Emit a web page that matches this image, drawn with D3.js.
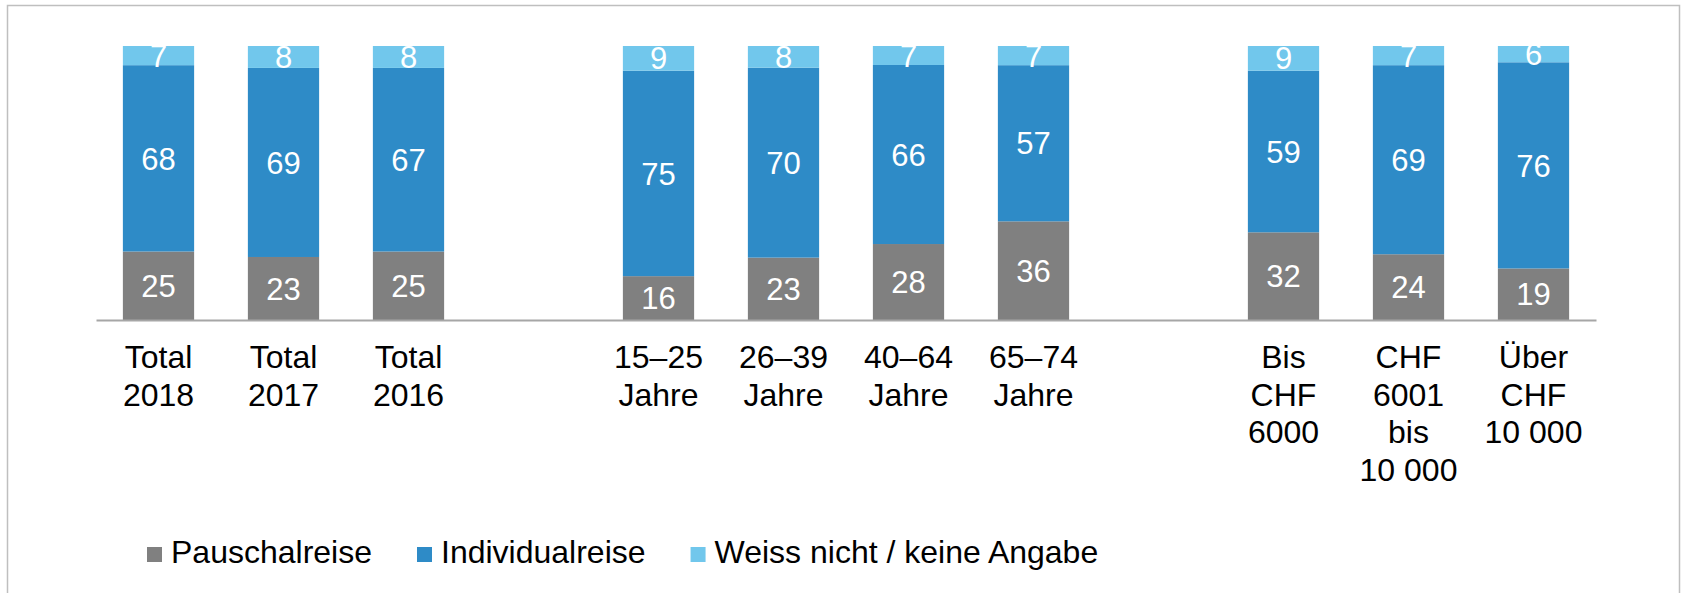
<!DOCTYPE html>
<html>
<head>
<meta charset="utf-8">
<script src="https://cdn.jsdelivr.net/npm/d3@7"></script>
<style>
  body { margin: 0; background: #fff; }
  text { font-family: "Liberation Sans", Arial, sans-serif; }
</style>
</head>
<body>
<div id="chart"></div>
<script>
// ===== Data =====
let categories = [
  ["Total", "2018"], ["Total", "2017"], ["Total", "2016"],
  ["15–25", "Jahre"], ["26–39", "Jahre"], ["40–64", "Jahre"], ["65–74", "Jahre"],
  ["Bis", "CHF", "6000"], ["CHF", "6001", "bis", "10 000"], ["Über", "CHF", "10 000"]
];
// which block each category belongs to (a blank slot sits between blocks)
let groupOf = [0, 0, 0, 1, 1, 1, 1, 2, 2, 2];

let pauschal   = [25, 23, 25, 16, 23, 28, 36, 32, 24, 19];
let individual = [68, 69, 67, 75, 70, 66, 57, 59, 69, 76];
let weissNicht = [7, 8, 8, 9, 8, 7, 7, 9, 7, 6];

let seriesNames = ["Pauschalreise", "Individualreise", "Weiss nicht / keine Angabe"];
let colors = ["#808080", "#2E8BC7", "#71C7EC"];

// ===== Layout =====
let width = 1682, height = 593;
let baseY = 320, topY = 46;
let valueSize = 31, labelSize = 32;

let rows = categories.map((c, i) => ({
  slot: i + groupOf[i],
  label: c,
  "Pauschalreise": pauschal[i],
  "Individualreise": individual[i],
  "Weiss nicht / keine Angabe": weissNicht[i]
}));

let nSlots = categories.length + d3.max(groupOf);

let x = d3.scaleBand()
    .domain(d3.range(nSlots))
    .range([96, 1596])
    .paddingInner(0.43)
    .paddingOuter(0.215);

let y = d3.scaleLinear().domain([0, 1]).range([baseY, topY]);

let stack = d3.stack()
    .keys(seriesNames)
    .offset(d3.stackOffsetExpand);
let stacked = stack(rows);

let svg = d3.select("#chart").append("svg")
    .attr("width", width)
    .attr("height", height);

// outer frame
svg.append("rect")
    .attr("x", 7.5).attr("y", 5.5)
    .attr("width", 1672).attr("height", 620)
    .attr("fill", "none")
    .attr("stroke", "#BFBFBF")
    .attr("stroke-width", 1.5);

// ===== Bars =====
let layers = svg.selectAll(".layer")
  .data(stacked)
  .enter().append("g")
    .attr("class", "layer")
    .attr("fill", (d, i) => colors[i]);

layers.selectAll("rect")
  .data(d => d)
  .enter().append("rect")
    .attr("x", d => x(d.data.slot))
    .attr("width", x.bandwidth())
    .attr("y", d => y(d[1]))
    .attr("height", d => y(d[0]) - y(d[1]));

// value labels
layers.each(function(layer) {
  d3.select(this).selectAll(".val")
    .data(layer)
    .enter().append("text")
      .attr("class", "val")
      .attr("x", d => x(d.data.slot) + x.bandwidth() / 2)
      .attr("y", d => (y(d[0]) + y(d[1])) / 2)
      .attr("dy", "0.36em")
      .attr("text-anchor", "middle")
      .attr("fill", "#fff")
      .attr("font-size", valueSize)
      .text(d => d.data[layer.key]);
});

// ===== Axis =====
let xAxis = d3.axisBottom(x).tickSize(0).tickFormat("");
let axisG = svg.append("g")
    .attr("transform", "translate(0," + baseY + ")")
    .call(xAxis);
axisG.select(".domain").attr("stroke", "#A6A6A6").attr("stroke-width", 2);

let labels = svg.selectAll(".cat")
  .data(rows)
  .enter().append("text")
    .attr("class", "cat")
    .attr("text-anchor", "middle")
    .attr("font-size", labelSize)
    .attr("fill", "#000");

labels.selectAll("tspan")
  .data(d => d.label.map(l => ({l: l, slot: d.slot})))
  .enter().append("tspan")
    .attr("x", d => x(d.slot) + x.bandwidth() / 2)
    .attr("y", (d, i) => 368 + i * 37.5)
    .text(d => d.l);

// ===== Legend =====
let legend = svg.append("g").attr("transform", "translate(147,563)");
let lx = 0;
seriesNames.forEach((name, i) => {
  let item = legend.append("g").attr("transform", "translate(" + lx + ",0)");
  item.append("rect")
      .attr("x", 0).attr("y", -16)
      .attr("width", 15).attr("height", 15)
      .attr("fill", colors[i]);
  let t = item.append("text")
      .attr("x", 24)
      .attr("font-size", labelSize)
      .attr("fill", "#000")
      .text(name);
  lx += 24 + t.node().getComputedTextLength() + 45;
});
</script>
</body>
</html>
